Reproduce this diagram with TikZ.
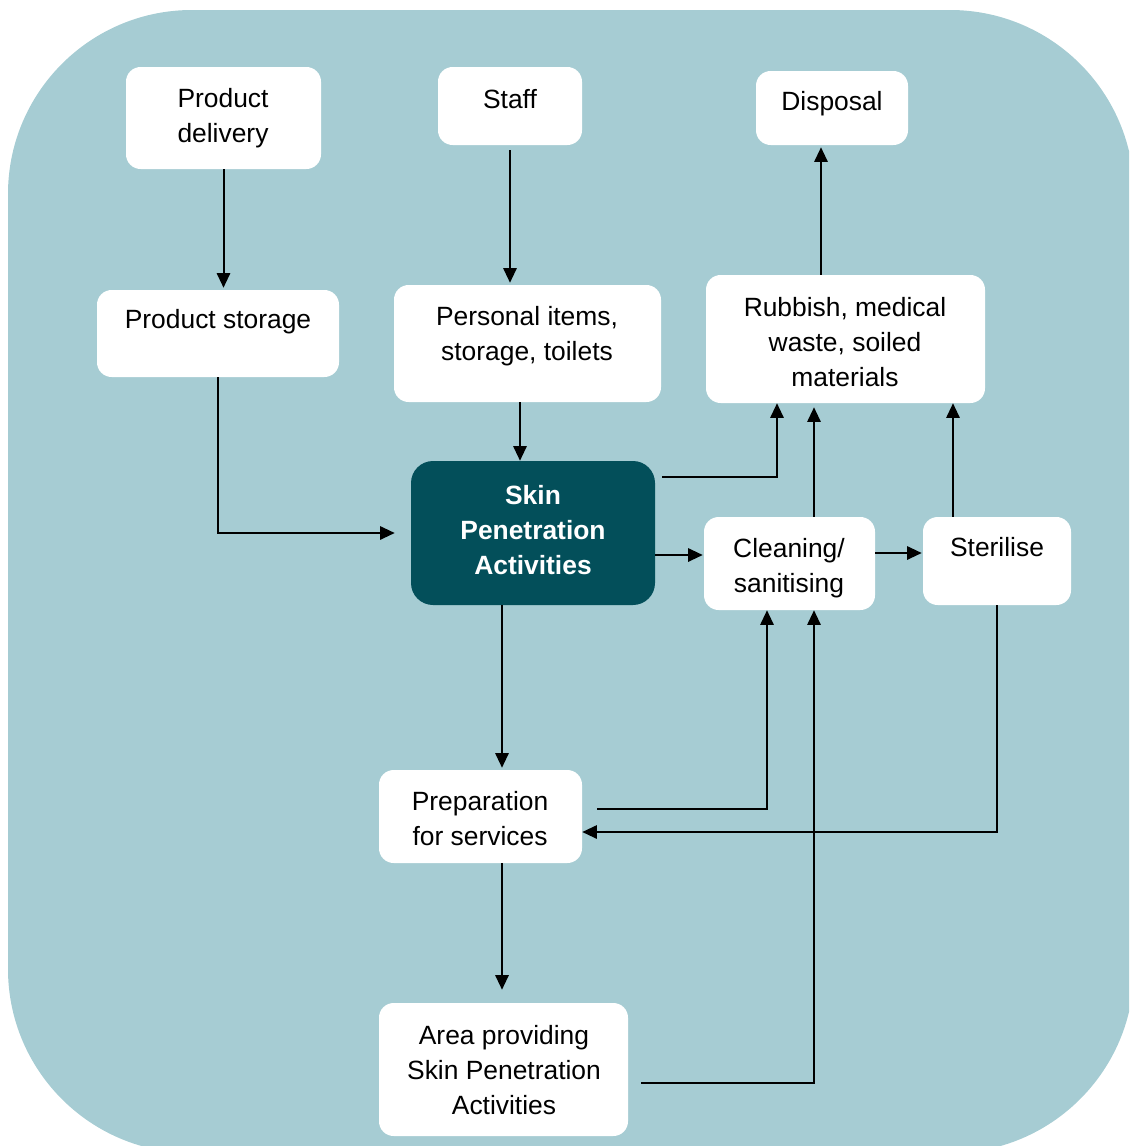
\documentclass[tikz,border=0pt]{standalone}
\usepackage{fontspec}
\setmainfont{Liberation Sans}
\usetikzlibrary{arrows.meta,calc}
\definecolor{bgteal}{HTML}{A6CCD3}
\definecolor{darkteal}{HTML}{034F5A}
\tikzset{
  box/.style={draw=none, fill=white, rounded corners=11pt, inner sep=0pt},
  lbl/.style={inner sep=0pt, align=center, font=\fontsize{19.8}{26.3}\selectfont},
  arr/.style={line width=1.5pt, -{Triangle[length=11pt,width=10pt]}},
}
\begin{document}
\begin{tikzpicture}[x=0.75pt,y=0.75pt,yscale=-1,xscale=1]
    \path[use as bounding box] (0,0) rectangle (1129,1146);
    %Background panel
    \begin{scope}
      \clip (0,0) rectangle (1129,1146);
      \fill[bgteal, rounded corners=138pt] (8,10) rectangle (1134,1153);
    \end{scope}

    %Boxes
    \node[box, minimum width=146.25pt, minimum height=76.5pt] (deliv) at (223.5,118) {};
    \node[box, minimum width=108pt, minimum height=58.5pt] (staff) at (510,106) {};
    \node[box, minimum width=114pt, minimum height=55.5pt] (disp) at (832,108) {};
    \node[box, minimum width=181.5pt, minimum height=65.25pt] (pstore) at (218,333.5) {};
    \node[box, minimum width=200.25pt, minimum height=87.75pt] (pers) at (527.5,343.5) {};
    \node[box, minimum width=209.25pt, minimum height=96pt] (rubb) at (845.5,339) {};
    \node[box, fill=darkteal, rounded corners=16.5pt, minimum width=183pt, minimum height=108pt] (skin) at (533,533) {};
    \node[box, minimum width=128.25pt, minimum height=69.75pt] (clean) at (789.5,563.5) {};
    \node[box, minimum width=111pt, minimum height=66pt] (steril) at (997,561) {};
    \node[box, minimum width=152.25pt, minimum height=69.75pt] (prep) at (480.5,816.5) {};
    \node[box, minimum width=186.75pt, minimum height=99.75pt] (area) at (503.5,1069.5) {};

    % Text Node
    \node[lbl] (delivT) at (223,118) {Product\\delivery};
    % Text Node
    \node[lbl] (staffT) at (510,99) {Staff};
    % Text Node
    \node[lbl] (dispT) at (832,104) {Disposal};
    % Text Node
    \node[lbl] (pstoreT) at (218,322) {Product storage};
    % Text Node
    \node[lbl] (persT) at (527,336.5) {Personal items,\\storage, toilets};
    % Text Node
    \node[lbl] (rubbT) at (845,342) {Rubbish, medical\\waste, soiled\\materials};
    % Text Node
    \node[lbl, text=white, font={\fontsize{19.8}{26.3}\selectfont\bfseries}] (skinT) at (533,530) {Skin\\Penetration\\Activities};
    % Text Node
    \node[lbl] (cleanT) at (789,568) {Cleaning/\\sanitising};
    % Text Node
    \node[lbl] (sterilT) at (997,547) {Sterilise};
    % Text Node
    \node[lbl] (prepT) at (480,819) {Preparation\\for services};
    % Text Node
    \node[lbl] (areaT) at (504,1070) {Area providing\\Skin Penetration\\Activities};

    %Connectors
    \draw[arr, shorten >=1.5pt] (deliv.south) -- (deliv.south |- pstore.north);
    \draw[arr, shorten <=3.75pt, shorten >=1.5pt] (staff.south) -- (staff.south |- pers.north);
    \draw[arr, shorten >=12pt] (pstore.south) |- (skin.west);
    \draw[arr] ($(pers.south)+(-7.5,0)$) -- ($(skin.north)+(-13,0)$);
    \draw[arr] ($(skin.east)+(7,-56)$) -| ($(rubb.south)+(-68.5,0)$);
    \draw[arr, shorten >=0.75pt] ($(skin.east)+(0,22)$) -- ($(clean.west)+(0,-8.5)$);
    \draw[arr, shorten >=3pt] ($(clean.north)+(24.5,0)$) -- ($(rubb.south)+(-31.5,0)$);
    \draw[arr, shorten >=0.75pt] ($(clean.east)+(0,-10.5)$) -- ($(steril.west)+(0,-8)$);
    \draw[arr] ($(steril.north)+(-44,0)$) -- ($(rubb.south)+(107.5,0)$);
    \draw[arr, shorten >=1.5pt] ($(rubb.north)+(-24.5,0)$) -- ($(disp.south)+(-11,0)$);
    \draw[arr, shorten >=1.5pt] ($(skin.south)+(-31,0)$) -- ($(prep.north)+(21.5,0)$);
    \draw[arr] ($(prep.east)+(15,-7.5)$) -| ($(clean.south)+(-22.5,0)$);
    \draw[arr] (steril.south) |- ($(prep.east)+(0,15.5)$);
    \draw[arr, shorten >=9.75pt] ($(prep.south)+(21.5,0)$) -- ($(area.north)+(-1.5,0)$);
    \draw[arr] ($(area.east)+(13,13.5)$) -| ($(clean.south)+(24.5,0)$);
\end{tikzpicture}
\end{document}
